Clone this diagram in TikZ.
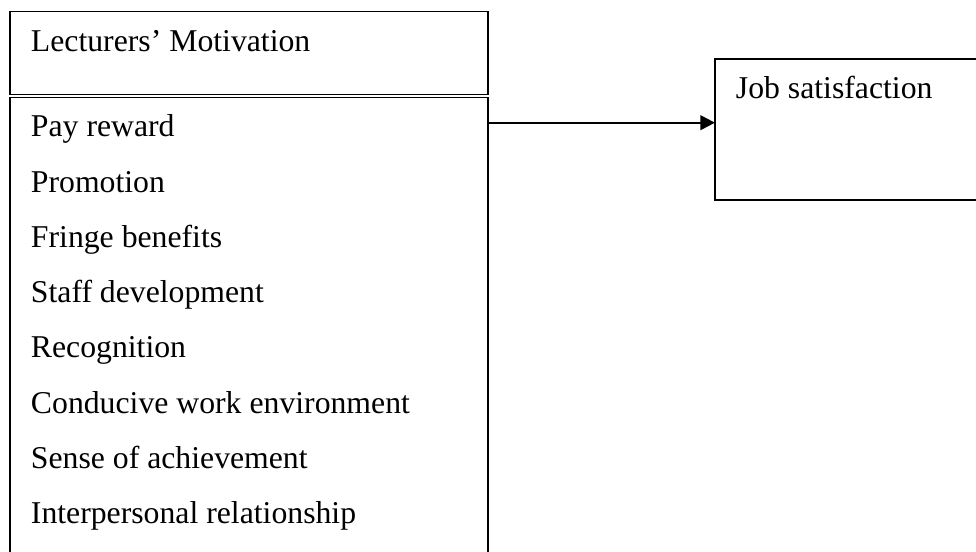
\documentclass[tikz,border=0pt]{standalone}
\usepackage{fontspec}
\setmainfont{Liberation Serif}
\usetikzlibrary{arrows.meta}
\begin{document}
\begin{tikzpicture}[x=0.75pt,y=-0.75pt,
  boxline/.style={draw=black,line width=1.3pt},
  label/.style={anchor=base west,inner sep=0pt,font=\fontsize{23.8pt}{28pt}\selectfont},
  arrowline/.style={line width=1.6pt,-{Triangle[length=11pt,width=11pt]}}]
\useasboundingbox (0,0) rectangle (976,552);
\clip (0,0) rectangle (976,552);
% boxes
\path[boxline] (10,11.5) rectangle (488,94.5);
\path[boxline] (10,97.5) rectangle (488,600);
\coordinate (listE) at (488,122.7);
\path[boxline] (715,59) rectangle (1000,200);
\coordinate (jobW) at (715,122.7);
% texts
\node[label] (t0) at (30.7,51.7) {Lecturers’ Motivation};
\node[label] (t1) at (30.7,136.7) {Pay reward};
\node[label] (t2) at (30.7,192.1) {Promotion};
\node[label] (t3) at (30.7,247.4) {Fringe benefits};
\node[label] (t4) at (30.7,302.7) {Staff development};
\node[label] (t5) at (30.7,358.0) {Recognition};
\node[label] (t6) at (30.7,413.3) {Conducive work environment};
\node[label] (t7) at (30.7,468.4) {Sense of achievement};
\node[label] (t8) at (30.7,523.5) {Interpersonal relationship};
\node[label] (job) at (735.7,98.3) {Job satisfaction};
% connector
\draw[arrowline] (listE) -- (jobW);
\end{tikzpicture}
\end{document}
